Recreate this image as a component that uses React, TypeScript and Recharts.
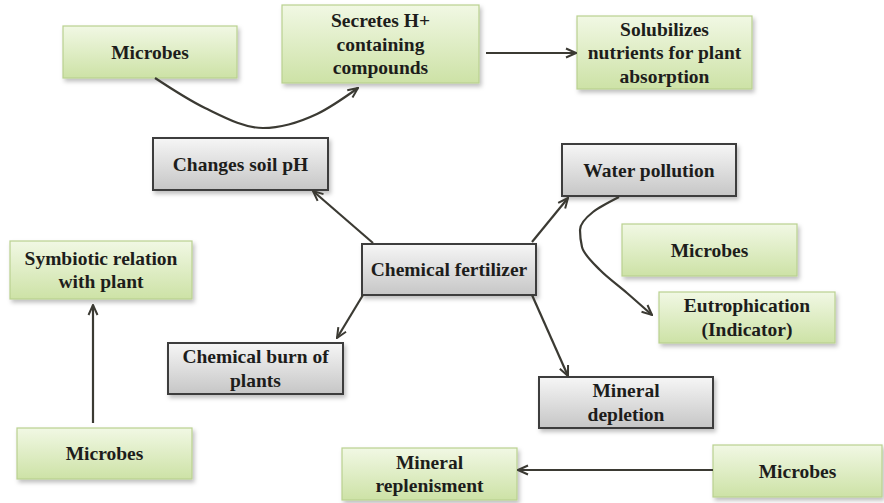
import React from 'react';
import { ScatterChart, Scatter, XAxis, YAxis, ReferenceArea } from 'recharts';

// Boxes of the diagram, in picture units (x: 0-884 left to right, y: 0-503 top to bottom)
const greenNodes = [
  { lines: ['Microbes'], x1: 63, x2: 237, y1: 26, y2: 78 },
  { lines: ['Secretes H+', 'containing', 'compounds'], x1: 282, x2: 479, y1: 5, y2: 83 },
  { lines: ['Solubilizes', 'nutrients for plant', 'absorption'], x1: 577, x2: 752, y1: 16, y2: 89 },
  { lines: ['Symbiotic relation', 'with plant'], x1: 10, x2: 192, y1: 241, y2: 299 },
  { lines: ['Microbes'], x1: 622, x2: 797, y1: 224, y2: 276 },
  { lines: ['Eutrophication', '(Indicator)'], x1: 659, x2: 835, y1: 292, y2: 343 },
  { lines: ['Microbes'], x1: 17, x2: 192, y1: 428, y2: 479 },
  { lines: ['Mineral', 'replenisment'], x1: 342, x2: 517, y1: 448, y2: 500 },
  { lines: ['Microbes'], x1: 713, x2: 882, y1: 445, y2: 497 },
];

const grayNodes = [
  { lines: ['Changes soil pH'], x1: 153, x2: 328, y1: 138, y2: 190 },
  { lines: ['Water pollution'], x1: 562, x2: 736, y1: 144, y2: 196 },
  { lines: ['Chemical fertilizer'], x1: 362, x2: 536, y1: 244, y2: 295 },
  { lines: ['Chemical burn of', 'plants'], x1: 168, x2: 343, y1: 343, y2: 394 },
  { lines: ['Mineral', 'depletion'], x1: 539, x2: 713, y1: 377, y2: 428 },
];

// Arrows: each is a list of points, the last one is the tip
const arrowSecretesToSolubilizes = [{ x: 486, y: 53 }, { x: 576, y: 53 }];
const arrowToSoilPh = [{ x: 373, y: 243 }, { x: 313, y: 191 }];
const arrowToWaterPollution = [{ x: 532, y: 242 }, { x: 568, y: 198 }];
const arrowToChemicalBurn = [{ x: 363, y: 295 }, { x: 337, y: 338 }];
const arrowToMineralDepletion = [{ x: 532, y: 295 }, { x: 568, y: 376 }];
const arrowToSymbiotic = [{ x: 93, y: 423 }, { x: 93, y: 305 }];
const arrowToReplenisment = [{ x: 713, y: 470 }, { x: 518, y: 470 }];

const curveMicrobesToSecretes = [
  { x: 155, y: 78 },
  { x: 205, y: 108 },
  { x: 263, y: 128 },
  { x: 317, y: 114 },
  { x: 358, y: 88 },
];
const curveWaterToEutrophication = [
  { x: 619, y: 197 },
  { x: 593, y: 212 },
  { x: 580, y: 230 },
  { x: 582, y: 247 },
  { x: 600, y: 270 },
  { x: 627, y: 293 },
  { x: 652, y: 315 },
];

const ARROW_COLOR = '#3b3a33';
const FONT = '"Liberation Serif", "Times New Roman", "DejaVu Serif", serif';

const NodeBox = (props: any) => {
  const { x, y, width, height, lines, gray } = props;
  const cx = x + width / 2;
  const cy = y + height / 2;
  const lh = 23.5;
  const start = cy - ((lines.length - 1) * lh) / 2;
  return (
    <g>
      <rect
        x={x}
        y={y}
        width={width}
        height={height}
        fill={gray ? 'url(#grayFill)' : 'url(#greenFill)'}
        stroke={gray ? '#3d3d3d' : '#b9d18f'}
        strokeWidth={gray ? 2 : 1.2}
        filter="url(#boxShadow)"
      />
      {lines.map((t: string, i: number) => (
        <text
          key={i}
          x={cx}
          y={start + i * lh}
          textAnchor="middle"
          dominantBaseline="central"
          style={{ fontFamily: FONT, fontWeight: 700, fontSize: 19.5 }}
          fill="#1d1d1b"
        >
          {t}
        </text>
      ))}
    </g>
  );
};

const noDot = () => <g />;

const arrowLine = { stroke: ARROW_COLOR, strokeWidth: 2.2, markerEnd: 'url(#arrowHead)' };

const App = () => {
  const straight = [
    arrowSecretesToSolubilizes,
    arrowToSoilPh,
    arrowToWaterPollution,
    arrowToChemicalBurn,
    arrowToMineralDepletion,
    arrowToSymbiotic,
    arrowToReplenisment,
  ];
  return (
    <div style={{ position: 'absolute', left: 0, top: 0, background: '#fff' }}>
      <ScatterChart width={884} height={503} margin={{ top: 0, right: 0, bottom: 0, left: 0 }}>
        <defs>
          <linearGradient id="greenFill" x1="0" y1="0" x2="0" y2="1">
            <stop offset="0%" stopColor="#f1f8e4" />
            <stop offset="100%" stopColor="#cde2a6" />
          </linearGradient>
          <linearGradient id="grayFill" x1="0" y1="0" x2="0" y2="1">
            <stop offset="0%" stopColor="#f6f6f6" />
            <stop offset="100%" stopColor="#c6c6c6" />
          </linearGradient>
          <filter id="boxShadow" x="-10%" y="-10%" width="125%" height="135%">
            <feDropShadow dx="2" dy="3" stdDeviation="2" floodColor="#000" floodOpacity="0.25" />
          </filter>
          <marker
            id="arrowHead"
            viewBox="0 0 12 12"
            refX="11"
            refY="6"
            markerWidth="12"
            markerHeight="12"
            markerUnits="userSpaceOnUse"
            orient="auto"
          >
            <path d="M1,1.5 L11,6 L1,10.5" fill="none" stroke={ARROW_COLOR} strokeWidth="2" />
          </marker>
        </defs>
        <XAxis type="number" dataKey="x" domain={[0, 884]} allowDataOverflow hide />
        <YAxis type="number" dataKey="y" domain={[0, 503]} allowDataOverflow reversed hide />

        {straight.map((pts, i) => (
          <Scatter
            key={'s' + i}
            data={pts}
            fill={ARROW_COLOR}
            line={arrowLine}
            shape={noDot}
            isAnimationActive={false}
          />
        ))}
        <Scatter
          data={curveMicrobesToSecretes}
          fill={ARROW_COLOR}
          line={arrowLine}
          lineJointType="monotoneX"
          shape={noDot}
          isAnimationActive={false}
        />
        <Scatter
          data={curveWaterToEutrophication}
          fill={ARROW_COLOR}
          line={arrowLine}
          lineJointType="monotoneY"
          shape={noDot}
          isAnimationActive={false}
        />

        {greenNodes.map((n, i) => (
          <ReferenceArea
            key={'g' + i}
            x1={n.x1}
            x2={n.x2}
            y1={n.y1}
            y2={n.y2}
            shape={(p: any) => <NodeBox {...p} lines={n.lines} gray={false} />}
          />
        ))}
        {grayNodes.map((n, i) => (
          <ReferenceArea
            key={'k' + i}
            x1={n.x1}
            x2={n.x2}
            y1={n.y1}
            y2={n.y2}
            shape={(p: any) => <NodeBox {...p} lines={n.lines} gray />}
          />
        ))}
      </ScatterChart>
    </div>
  );
};

export default App;
